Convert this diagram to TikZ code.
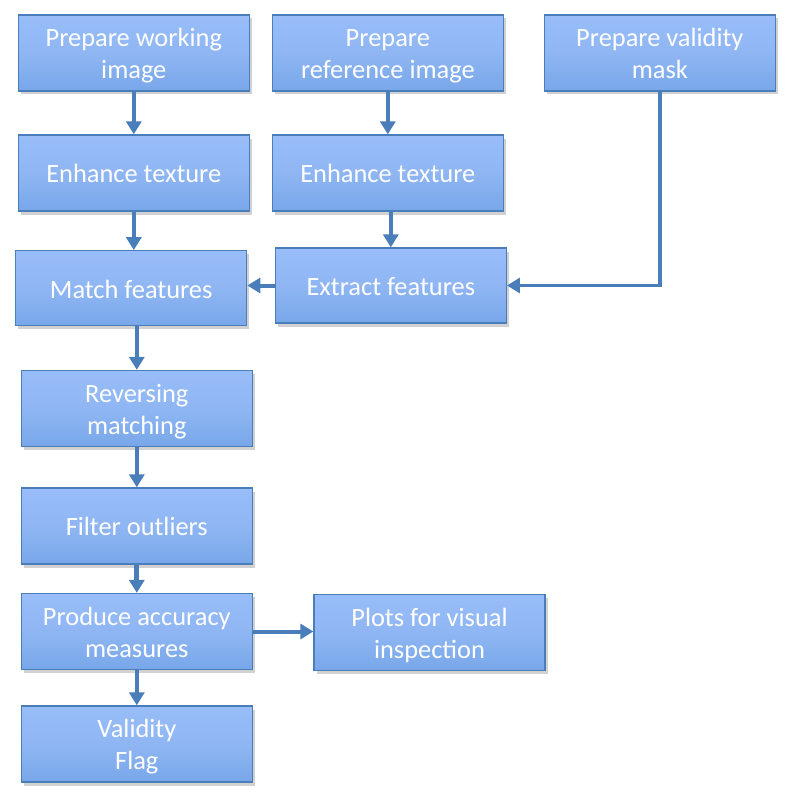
\documentclass[tikz,border=0pt]{standalone}
\usepackage{fontspec}
\setmainfont{Carlito}
\usetikzlibrary{arrows.meta,shadows,calc}
\definecolor{btop}{HTML}{A1C4FF}
\definecolor{bmid}{HTML}{8FB6F3}
\definecolor{bmid2}{HTML}{6C9FE4}
\definecolor{bbot}{HTML}{4A84D2}
\definecolor{bline}{HTML}{4A7EBB}
\definecolor{aline}{HTML}{4A7EBB}
\newcommand\bstrut{\rule[-6.2pt]{0pt}{32pt}}
\newcommand\boxfont{\fontsize{26.4}{32}\selectfont\setlength{\lineskiplimit}{-20pt}}
\pgfdeclareverticalshading{boxshade}{100bp}{color(0bp)=(bbot); color(12bp)=(bmid2); color(50bp)=(bmid); color(100bp)=(btop)}
\tikzset{
  flowbox/.style={rectangle, shading=boxshade, draw=bline, line width=1.3pt,
    minimum width=231pt, minimum height=76pt, inner sep=0pt, align=center,
    text=white, font=\boxfont,
    drop shadow={shadow xshift=2.5pt, shadow yshift=-3.5pt, opacity=0.3, fill=black!60}},
  flowarrow/.style={draw=aline, line width=4pt,
    -{Triangle[width=15pt,length=13pt]}, color=aline}
}
\begin{document}
\begin{tikzpicture}[x=1pt,y=-1pt]
\useasboundingbox (0,0) rectangle (791,797);
\node[flowbox] (pw) at (133.8,53) {\bstrut Prepare working\\\bstrut image};
\node[flowbox] (pr) at (387.8,53) {\bstrut Prepare\\\bstrut reference image};
\node[flowbox] (pv) at (659.8,53) {\bstrut Prepare validity\\\bstrut mask};
\node[flowbox] (e1) at (133.8,173) {\bstrut Enhance texture};
\node[flowbox] (e2) at (387.8,173) {\bstrut Enhance texture};
\node[flowbox, minimum height=75pt] (mf) at (131.2,288.3) {\bstrut Match features};
\node[flowbox, minimum height=75pt] (ef) at (390.8,285.5) {\bstrut Extract features};
\node[flowbox] (rm) at (136.8,408.5) {\bstrut Reversing\\\bstrut matching};
\node[flowbox] (fo) at (136.8,526) {\bstrut Filter outliers};
\node[flowbox] (pa) at (136.8,631.5) {\bstrut Produce accuracy\\\bstrut measures};
\node[flowbox] (pl) at (429.5,632.3) {\bstrut Plots for visual\\\bstrut inspection};
\node[flowbox] (vf) at (136.8,744) {\bstrut Validity\\\bstrut Flag};

\draw[flowarrow] (pw.south) -- (e1.north);
\draw[flowarrow] (pr.south) -- (e2.north);
\draw[flowarrow] (e1.south) -- (e1.south |- mf.north);
\draw[flowarrow] (e2.south -| ef.north) -- (ef.north);
\draw[flowarrow] (ef.west) -- (ef.west -| mf.east);
\draw[flowarrow, line width=3.6pt] (pv.south) |- (ef.east);
\draw[flowarrow] (rm.north |- mf.south) -- (rm.north);
\draw[flowarrow] (rm.south) -- (fo.north);
\draw[flowarrow, line width=5pt] (fo.south) -- (pa.north);
\draw[flowarrow] (pa.south) -- (vf.north);
\draw[flowarrow] (pa.east) -- (pa.east -| pl.west);
\end{tikzpicture}
\end{document}
